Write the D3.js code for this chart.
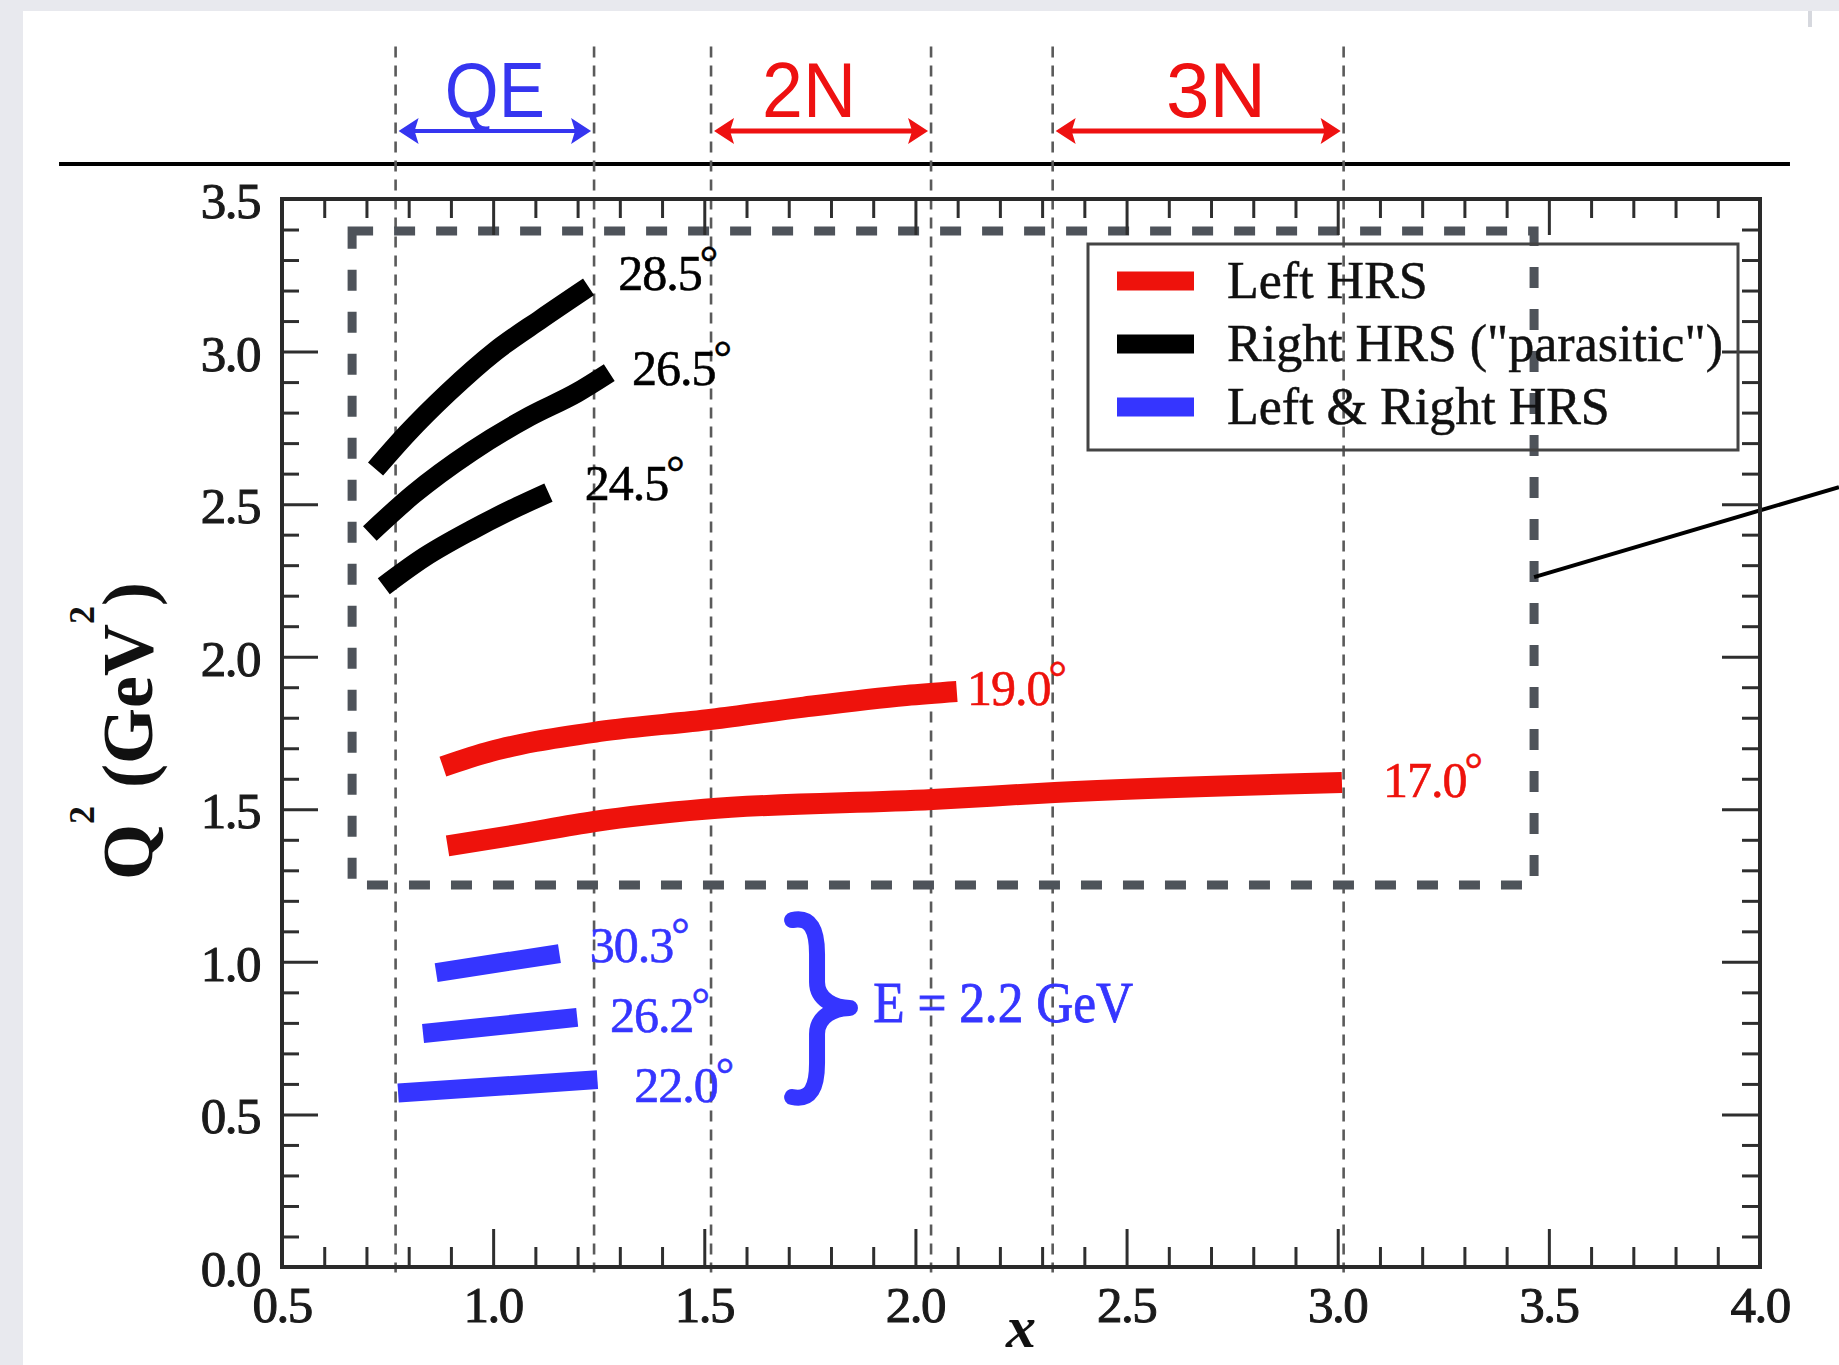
<!DOCTYPE html>
<html>
<head>
<meta charset="utf-8">
<script src="https://cdn.jsdelivr.net/npm/d3@7/dist/d3.min.js"></script>
<style>
  body { margin: 0; background: #ffffff; }
  svg { display: block; }
</style>
</head>
<body>
<svg id="chart" width="1839" height="1365"></svg>
<script>
// ---------------- data ----------------
const xTicksMajor = [0.5, 1.0, 1.5, 2.0, 2.5, 3.0, 3.5, 4.0];
const xTickLabels = ["0.5", "1.0", "1.5", "2.0", "2.5", "3.0", "3.5", "4.0"];
const yTicksMajor = [0.0, 0.5, 1.0, 1.5, 2.0, 2.5, 3.0, 3.5];
const yTickLabels = ["0.0", "0.5", "1.0", "1.5", "2.0", "2.5", "3.0", "3.5"];

// kinematic regions (QE / 2N / 3N) boundaries in x
const regionBounds = [0.769, 1.239, 1.516, 2.037, 2.325, 3.014];
const regionNames = ["QE", "2N", "3N"];
const regionStart = [0.769, 1.516, 2.325];
const regionEnd = [1.239, 2.037, 3.014];
const regionLabelX = [1.004, 1.748, 2.712];
const regionColors = ["#3535f0", "#ee1111", "#ee1111"];

// kinematic coverage curves
const curveAngles = ["28.5", "26.5", "24.5", "19.0", "17.0", "30.3", "26.2", "22.0"];
const curveColors = ["#000000", "#000000", "#000000", "#ee120c", "#ee120c", "#3535ff", "#3535ff", "#3535ff"];
const curve285X = [0.7215, 0.796, 0.893, 1.004, 1.115, 1.226];
const curve285Y = [2.615, 2.731, 2.865, 3.000, 3.108, 3.212];
const curve265X = [0.708, 0.810, 0.949, 1.087, 1.198, 1.275];
const curve265Y = [2.404, 2.531, 2.673, 2.788, 2.865, 2.931];
const curve245X = [0.741, 0.838, 0.949, 1.059, 1.131];
const curve245Y = [2.231, 2.327, 2.415, 2.492, 2.538];
const curve190X = [0.881, 0.995, 1.10, 1.253, 1.518, 1.736, 1.978, 2.098];
const curve190Y = [1.640, 1.690, 1.722, 1.755, 1.795, 1.835, 1.873, 1.886];
const curve170X = [0.892, 1.05, 1.24, 1.50, 2.04, 2.33, 3.01];
const curve170Y = [1.380, 1.415, 1.460, 1.500, 1.532, 1.555, 1.588];
const curve303X = [0.865, 1.157];
const curve303Y = [0.965, 1.027];
const curve262X = [0.834, 1.199];
const curve262Y = [0.765, 0.818];
const curve220X = [0.775, 1.247];
const curve220Y = [0.570, 0.614];
const curveXs = [curve285X, curve265X, curve245X, curve190X, curve170X, curve303X, curve262X, curve220X];
const curveYs = [curve285Y, curve265Y, curve245Y, curve190Y, curve170Y, curve303Y, curve262Y, curve220Y];
const labelX = [1.296, 1.329, 1.217, 2.122, 3.107, 1.229, 1.277, 1.334];
const labelY = [3.202, 2.890, 2.514, 1.842, 1.540, 1.000, 0.770, 0.541];

// legend
const legendNames = ["Left HRS", "Right HRS (\"parasitic\")", "Left & Right HRS"];
const legendColors = ["#ee120c", "#000000", "#3535ff"];

// annotations
const boxX = [0.666, 3.465];
const boxY = [1.252, 3.395];
const connectorX = [3.465, 4.187];
const connectorY = [2.261, 2.556];
const braceX = [1.708, 1.767, 1.845];   // ends, spine, tip
const braceY = [1.137, 0.849, 0.557];   // top, tip, bottom
const energyLabel = "E = 2.2 GeV";
const energyX = 1.90, energyY = 0.803;
const headerArrowY = 3.723;
const headerTextY = 3.769;
const ruleY = 3.615;
const ruleX = [-0.028, 4.071];
const guideY = [-0.018, 4.0];
const xTitleX = 2.25;

// ---------------- drawing ----------------
const svg = d3.select("#chart");
const W = 1839, H = 1365;
const x = d3.scaleLinear().domain([0.5, 4.0]).range([282, 1760]);
const y = d3.scaleLinear().domain([0, 3.5]).range([1267, 199]);

const serif = "'Liberation Serif', 'Times New Roman', Times, serif";
const sans = "'Liberation Sans', Arial, Helvetica, sans-serif";

// page background bands
svg.append("rect").attr("x", 0).attr("y", 0).attr("width", W).attr("height", H).attr("fill", "#ffffff");
svg.append("rect").attr("x", 0).attr("y", 0).attr("width", W).attr("height", 11).attr("fill", "#e8e9ee");
svg.append("rect").attr("x", 0).attr("y", 0).attr("width", 23).attr("height", H).attr("fill", "#e8e9ee");
svg.append("rect").attr("x", 1808).attr("y", 11).attr("width", 4).attr("height", 16).attr("fill", "#d6d8de");

// horizontal rule under header
svg.append("line")
  .attr("x1", x(ruleX[0])).attr("x2", x(ruleX[1]))
  .attr("y1", y(ruleY)).attr("y2", y(ruleY))
  .attr("stroke", "#000").attr("stroke-width", 4);

// thin dashed region guides
svg.append("g").selectAll("line").data(regionBounds).join("line")
  .attr("x1", d => x(d)).attr("x2", d => x(d))
  .attr("y1", y(guideY[1])).attr("y2", y(guideY[0]))
  .attr("stroke", "#5a5a5a").attr("stroke-width", 2.6)
  .attr("stroke-dasharray", "11,8");

// header arrows
function arrow(g, x1, x2, yy, color, w) {
  g.append("line").attr("x1", x1 + 10).attr("x2", x2 - 10).attr("y1", yy).attr("y2", yy)
    .attr("stroke", color).attr("stroke-width", w);
  const hl = 20, hh = 13;
  g.append("path").attr("d", `M${x1},${yy} L${x1 + hl},${yy - hh} L${x1 + hl - 4},${yy} L${x1 + hl},${yy + hh} Z`).attr("fill", color);
  g.append("path").attr("d", `M${x2},${yy} L${x2 - hl},${yy - hh} L${x2 - hl + 4},${yy} L${x2 - hl},${yy + hh} Z`).attr("fill", color);
}
const hdr = svg.append("g");
regionNames.forEach((n, i) => {
  arrow(hdr, x(regionStart[i]) + 3, x(regionEnd[i]) - 3, y(headerArrowY), regionColors[i], i === 0 ? 4 : 5);
  hdr.append("text")
    .attr("x", x(regionLabelX[i])).attr("y", y(headerTextY))
    .attr("text-anchor", "middle")
    .attr("font-family", sans).attr("font-size", 78)
    .attr("textLength", i === 0 ? 100 : (i === 1 ? 94 : 100))
    .attr("lengthAdjust", "spacingAndGlyphs")
    .attr("fill", regionColors[i])
    .text(n);
});

// thick dashed box
svg.append("rect")
  .attr("x", x(boxX[0])).attr("y", y(boxY[1]))
  .attr("width", x(boxX[1]) - x(boxX[0])).attr("height", y(boxY[0]) - y(boxY[1]))
  .attr("fill", "none").attr("stroke", "#4e535a").attr("stroke-width", 9)
  .attr("stroke-dasharray", "21,21");

// connector line
svg.append("line")
  .attr("x1", x(connectorX[0])).attr("y1", y(connectorY[0]))
  .attr("x2", x(connectorX[1])).attr("y2", y(connectorY[1]))
  .attr("stroke", "#000").attr("stroke-width", 4);

// ticks (axes)
const xMinor = d3.range(5, 41).map(d => d / 10).filter(d => Math.round(d * 10) % 5 !== 0);
const yMinor = d3.range(0, 36).map(d => d / 10).filter(d => Math.round(d * 10) % 5 !== 0);
function styleAxis(g) {
  g.select(".domain").remove();
  g.selectAll(".tick line").attr("stroke", "#2e2e2e").attr("stroke-width", 3);
  g.selectAll(".tick text").remove();
}
const axes = svg.append("g");
axes.append("g").attr("transform", `translate(0,${y(0)})`)
  .call(d3.axisBottom(x).tickValues(xTicksMajor).tickSize(-38).tickFormat("")).call(styleAxis);
axes.append("g").attr("transform", `translate(0,${y(0)})`)
  .call(d3.axisBottom(x).tickValues(xMinor).tickSize(-20).tickFormat("")).call(styleAxis);
axes.append("g").attr("transform", `translate(0,${y(3.5)})`)
  .call(d3.axisTop(x).tickValues(xTicksMajor).tickSize(-36).tickFormat("")).call(styleAxis);
axes.append("g").attr("transform", `translate(0,${y(3.5)})`)
  .call(d3.axisTop(x).tickValues(xMinor).tickSize(-19).tickFormat("")).call(styleAxis);
axes.append("g").attr("transform", `translate(${x(0.5)},0)`)
  .call(d3.axisLeft(y).tickValues(yTicksMajor).tickSize(-36).tickFormat("")).call(styleAxis);
axes.append("g").attr("transform", `translate(${x(0.5)},0)`)
  .call(d3.axisLeft(y).tickValues(yMinor).tickSize(-17).tickFormat("")).call(styleAxis);
axes.append("g").attr("transform", `translate(${x(4.0)},0)`)
  .call(d3.axisRight(y).tickValues(yTicksMajor).tickSize(-38).tickFormat("")).call(styleAxis);
axes.append("g").attr("transform", `translate(${x(4.0)},0)`)
  .call(d3.axisRight(y).tickValues(yMinor).tickSize(-18).tickFormat("")).call(styleAxis);

// frame
svg.append("rect")
  .attr("x", x(0.5)).attr("y", y(3.5))
  .attr("width", x(4.0) - x(0.5)).attr("height", y(0) - y(3.5))
  .attr("fill", "none").attr("stroke", "#2a2a2a").attr("stroke-width", 4);

// tick labels
svg.append("g").selectAll("text").data(xTicksMajor).join("text")
  .attr("x", d => x(d)).attr("y", y(0) + 55)
  .attr("text-anchor", "middle")
  .attr("font-family", serif).attr("font-size", 51)
  .attr("fill", "#1a1a1a").attr("stroke", "#1a1a1a").attr("stroke-width", 1)
  .attr("letter-spacing", -1.5)
  .text((d, i) => xTickLabels[i]);
svg.append("g").selectAll("text").data(yTicksMajor).join("text")
  .attr("x", x(0.5) - 22).attr("y", d => y(d) + 19)
  .attr("text-anchor", "end")
  .attr("font-family", serif).attr("font-size", 51)
  .attr("fill", "#1a1a1a").attr("stroke", "#1a1a1a").attr("stroke-width", 1)
  .attr("letter-spacing", -1.5)
  .text((d, i) => yTickLabels[i]);

// axis titles
const yt = svg.append("text")
  .attr("transform", `translate(152,731) rotate(-90)`)
  .attr("text-anchor", "middle")
  .attr("font-family", serif).attr("font-weight", "bold").attr("font-size", 72)
  .attr("fill", "#111");
yt.append("tspan").text("Q");
yt.append("tspan").attr("font-size", 36).attr("dy", -58).text("2");
yt.append("tspan").attr("dy", 58).text(" (GeV");
yt.append("tspan").attr("font-size", 36).attr("dy", -58).text("2");
yt.append("tspan").attr("dy", 58).text(")");

svg.append("text")
  .attr("x", x(xTitleX)).attr("y", 1347)
  .attr("text-anchor", "middle")
  .attr("font-family", serif).attr("font-weight", "bold").attr("font-style", "italic")
  .attr("font-size", 60).attr("fill", "#111")
  .text("x");

// curves
const line = d3.line().x(d => x(d[0])).y(d => y(d[1])).curve(d3.curveMonotoneX);
const curvesG = svg.append("g");
curveXs.forEach((xs, i) => {
  const pts = xs.map((v, j) => [v, curveYs[i][j]]);
  curvesG.append("path")
    .attr("d", line(pts))
    .attr("fill", "none")
    .attr("stroke", curveColors[i])
    .attr("stroke-width", i < 3 ? 20 : (i < 5 ? 21 : 19))
    .attr("stroke-linecap", "butt")
    .attr("stroke-linejoin", "round");
});

// curve labels
const labG = svg.append("g");
curveAngles.forEach((a, i) => {
  const t = labG.append("text")
    .attr("x", x(labelX[i])).attr("y", y(labelY[i]))
    .attr("font-family", serif).attr("font-size", 50)
    .attr("letter-spacing", -1)
    .attr("fill", curveColors[i])
    .attr("stroke", curveColors[i]).attr("stroke-width", 0.6);
  t.append("tspan").text(a);
  t.append("tspan").attr("font-size", 46).attr("dy", -12).attr("dx", -2).text("°");
});

// brace
const bx0 = x(braceX[0]), bx1 = x(braceX[1]), bx2 = x(braceX[2]);
const by0 = y(braceY[0]), by1 = y(braceY[1]), by2 = y(braceY[2]);
svg.append("path")
  .attr("d", `M${bx0},${by0} C${bx1 - 6},${by0 - 4} ${bx1},${by0 + 10} ${bx1},${by0 + 34}
              L${bx1},${by1 - 26} C${bx1},${by1 - 8} ${bx1 + 18},${by1} ${bx2},${by1}
              C${bx1 + 18},${by1} ${bx1},${by1 + 8} ${bx1},${by1 + 26}
              L${bx1},${by2 - 34} C${bx1},${by2 - 10} ${bx1 - 6},${by2 + 4} ${bx0},${by2}`)
  .attr("fill", "none").attr("stroke", "#3535ff").attr("stroke-width", 16)
  .attr("stroke-linecap", "round").attr("stroke-linejoin", "round");
svg.append("text")
  .attr("x", x(energyX)).attr("y", y(energyY))
  .attr("font-family", serif).attr("font-size", 56)
  .attr("textLength", 260).attr("lengthAdjust", "spacingAndGlyphs")
  .attr("fill", "#3535ff").attr("stroke", "#3535ff").attr("stroke-width", 0.8)
  .text(energyLabel);

// legend
const lg = svg.append("g");
lg.append("rect").attr("x", 1088).attr("y", 244).attr("width", 650).attr("height", 206)
  .attr("fill", "none").attr("stroke", "#444").attr("stroke-width", 3);
const legendRowY = d3.scalePoint().domain(legendNames).range([281, 407]);
legendNames.forEach((n, i) => {
  const cy = legendRowY(n);
  lg.append("rect").attr("x", 1117).attr("y", cy - 9.5).attr("width", 77).attr("height", 19)
    .attr("fill", legendColors[i]);
  lg.append("text").attr("x", 1227).attr("y", cy + 17)
    .attr("font-family", serif).attr("font-size", 52)
    .attr("fill", "#111").attr("stroke", "#111").attr("stroke-width", 0.5)
    .text(n);
});
</script>
</body>
</html>
